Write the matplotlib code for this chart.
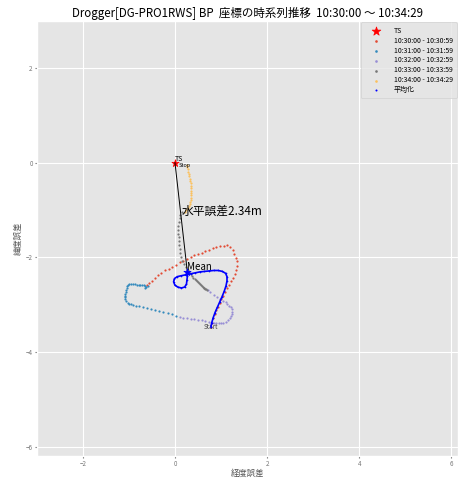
import numpy as np
import matplotlib
matplotlib.use('Agg')
import matplotlib.pyplot as plt

plt.style.use('ggplot')
plt.rcParams['font.family'] = ['Noto Sans CJK JP', 'DejaVu Sans']

# 測位点 (TS基準の経度誤差, 緯度誤差) [m]
min1_x = [0.78, 0.80, 0.83, 0.86, 0.90, 0.93, 0.97, 1.01, 1.05, 1.09, 1.13, 1.18, 1.22, 1.26, 1.30, 1.33,
          1.35, 1.34, 1.32, 1.29, 1.25, 1.20, 1.14, 1.06, 0.98, 0.90, 0.82, 0.74, 0.66, 0.58, 0.50, 0.42,
          0.34, 0.26, 0.18, 0.10, 0.02, -0.06, -0.14, -0.22, -0.30, -0.37, -0.44, -0.50, -0.56, -0.61]
min1_y = [-3.47, -3.38, -3.29, -3.20, -3.12, -3.05, -2.97, -2.89, -2.81, -2.74, -2.66, -2.58, -2.51, -2.44,
          -2.36, -2.27, -2.18, -2.09, -2.01, -1.93, -1.84, -1.78, -1.75, -1.76, -1.77, -1.79, -1.81, -1.84,
          -1.87, -1.90, -1.93, -1.96, -1.99, -2.03, -2.07, -2.11, -2.16, -2.20, -2.24, -2.28, -2.33, -2.38,
          -2.44, -2.50, -2.55, -2.59]

min2_x = [-0.59, -0.62, -0.65, -0.64, -0.67, -0.71, -0.75, -0.79, -0.83, -0.87, -0.91, -0.95, -0.99, -1.02,
          -1.04, -1.05, -1.06, -1.07, -1.08, -1.09, -1.09, -1.08, -1.06, -1.03, -0.99, -0.95, -0.91, -0.85,
          -0.77, -0.69, -0.61, -0.52, -0.43, -0.34, -0.25, -0.16, -0.07, 0.02]
min2_y = [-2.60, -2.63, -2.64, -2.60, -2.59, -2.59, -2.59, -2.58, -2.58, -2.57, -2.56, -2.56, -2.56, -2.58,
          -2.61, -2.65, -2.69, -2.73, -2.77, -2.81, -2.85, -2.89, -2.93, -2.96, -2.98, -2.99, -3.00, -3.02,
          -3.04, -3.06, -3.08, -3.10, -3.12, -3.14, -3.16, -3.18, -3.21, -3.24]

min3_x = [0.10, 0.18, 0.26, 0.34, 0.42, 0.50, 0.58, 0.66, 0.73, 0.80, 0.85, 0.90, 0.95, 1.00, 1.05, 1.10,
          1.15, 1.19, 1.22, 1.24, 1.24, 1.23, 1.21, 1.18, 1.14, 1.10, 1.05, 0.98, 0.91, 0.84, 0.77, 0.72]
min3_y = [-3.27, -3.28, -3.29, -3.30, -3.31, -3.32, -3.33, -3.35, -3.36, -3.37, -3.38, -3.39, -3.39, -3.39,
          -3.38, -3.36, -3.33, -3.29, -3.25, -3.20, -3.15, -3.10, -3.06, -3.02, -2.98, -2.95, -2.92, -2.88,
          -2.84, -2.79, -2.74, -2.70]

min4_x = [0.70, 0.68, 0.66, 0.64, 0.62, 0.60, 0.58, 0.56, 0.54, 0.52, 0.50, 0.48, 0.46, 0.43, 0.40, 0.37,
          0.34, 0.31, 0.28, 0.24, 0.20, 0.16, 0.13, 0.11, 0.10, 0.09, 0.08, 0.08, 0.07, 0.07, 0.07, 0.08,
          0.10, 0.12, 0.15]
min4_y = [-2.69, -2.68, -2.67, -2.65, -2.64, -2.62, -2.61, -2.59, -2.57, -2.55, -2.53, -2.51, -2.49, -2.46,
          -2.43, -2.40, -2.36, -2.31, -2.26, -2.20, -2.14, -2.07, -1.99, -1.90, -1.82, -1.74, -1.66, -1.58,
          -1.50, -1.42, -1.34, -1.26, -1.18, -1.11, -1.05]

min5_x = [0.22, 0.25, 0.28, 0.30, 0.32, 0.33, 0.34, 0.35, 0.35, 0.35, 0.35, 0.35, 0.34, 0.34, 0.33, 0.32,
          0.31, 0.30, 0.29, 0.28, 0.27, 0.26]
min5_y = [-1.04, -1.00, -0.96, -0.92, -0.88, -0.84, -0.79, -0.74, -0.69, -0.64, -0.59, -0.54, -0.49, -0.44,
          -0.39, -0.34, -0.29, -0.24, -0.19, -0.14, -0.10, -0.06]

# 平均化 (累積平均)
avg_x = [0.78, 0.80, 0.83, 0.87, 0.92, 0.97, 1.02, 1.07, 1.11, 1.13, 1.13, 1.10, 1.03, 0.94, 0.84, 0.74,
         0.64, 0.54, 0.44, 0.34, 0.24, 0.14, 0.05, -0.01, -0.03, 0.00, 0.06, 0.14, 0.21, 0.25, 0.26, 0.27, 0.27]
avg_y = [-3.47, -3.38, -3.28, -3.17, -3.06, -2.95, -2.84, -2.72, -2.60, -2.50, -2.41, -2.34, -2.30, -2.28,
         -2.28, -2.29, -2.30, -2.31, -2.33, -2.35, -2.37, -2.39, -2.41, -2.45, -2.52, -2.59, -2.63, -2.65,
         -2.63, -2.57, -2.48, -2.40, -2.32]

labels = ['10:30:00 - 10:30:59', '10:31:00 - 10:31:59', '10:32:00 - 10:32:59',
          '10:33:00 - 10:33:59', '10:34:00 - 10:34:29']
colors = ['#E24A33', '#348ABD', '#988ED5', '#777777', '#FBC15E']
series = [(min1_x, min1_y), (min2_x, min2_y), (min3_x, min3_y), (min4_x, min4_y), (min5_x, min5_y)]

fig = plt.figure(figsize=(4.6, 4.79), dpi=100)
ax = fig.add_axes([0.080, 0.049, 0.916, 0.907])

ax.scatter([0], [0], marker='*', s=30, color='red', label='TS', zorder=5)
for (xs, ys), c, lb in zip(series, colors, labels):
    ax.scatter(xs, ys, s=2.5, color=c, label=lb, linewidths=0, zorder=3)

ax.plot(avg_x, avg_y, color='blue', lw=1.2, zorder=4)
ax.scatter(avg_x, avg_y, s=1.5, color='blue', label='平均化', linewidths=0, zorder=4)

mx, my = avg_x[-1], avg_y[-1]
ax.scatter([mx], [my], marker='*', s=30, color='blue', zorder=6)
ax.plot([0, mx], [0, my], color='black', lw=0.7, zorder=5)
err = np.hypot(mx, my)

ax.text(0, 0, 'TS', fontsize=5, ha='left', va='bottom')
ax.text(min5_x[-1] - 0.04, min5_y[-1], 'Stop', fontsize=4, ha='center', va='center')
ax.text(min1_x[0], min1_y[0], 'Start', fontsize=4.5, ha='center', va='center', color='#444444')
ax.text(mx, my, 'Mean', fontsize=7, ha='left', va='bottom')
ax.text(mx / 2, my / 2, f'水平誤差{err:.2f}m', fontsize=8.5, ha='left', va='bottom')

ax.set_xlim(-3.0, 6.15)
ax.set_ylim(-6.19, 2.99)
ax.set_xticks([-2, 0, 2, 4, 6])
ax.set_yticks([-6, -4, -2, 0, 2])
ax.tick_params(labelsize=4.5, length=1.5, pad=1.5, colors='#777777')
ax.set_xlabel('経度誤差', fontsize=6, color='#555555', labelpad=1)
ax.set_ylabel('緯度誤差', fontsize=6, color='#555555', labelpad=2)
ax.set_title('Drogger[DG-PRO1RWS] BP  座標の時系列推移  10:30:00 ～ 10:34:29', fontsize=8.3, pad=3)

ax.legend(loc='upper right', fontsize=5, borderaxespad=0.2, borderpad=0.6,
          labelspacing=0.28, handlelength=3.2, handletextpad=0.9, markerscale=1.2)

fig.savefig('out.png', dpi=100)
